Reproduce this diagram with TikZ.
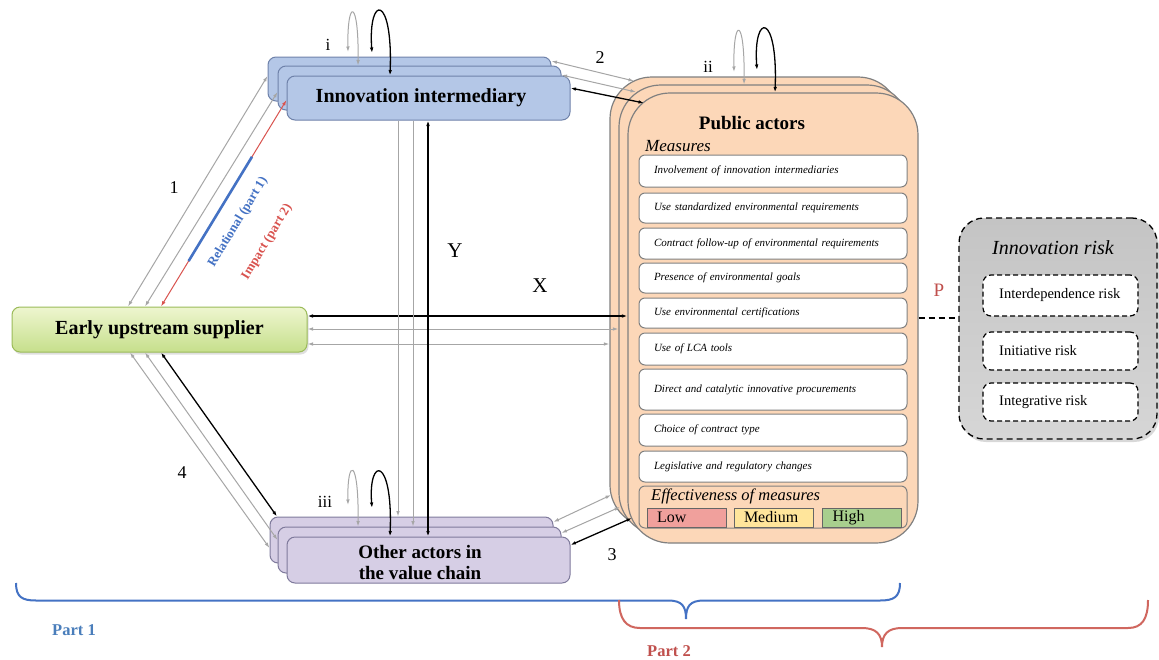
\documentclass[tikz,border=0pt]{standalone}
\usepackage{fontspec}
\setmainfont{Liberation Serif}
\usetikzlibrary{arrows.meta,calc,shadows}

\definecolor{innfill}{HTML}{B4C7E7}
\definecolor{innedge}{HTML}{6F82AA}
\definecolor{othfill}{HTML}{D6CEE5}
\definecolor{othedge}{HTML}{7F7A9C}
\definecolor{pubfill}{HTML}{FCD7B8}
\definecolor{pubedge}{HTML}{808080}
\definecolor{supedge}{HTML}{9BBB59}
\definecolor{suptop}{HTML}{EEF6CF}
\definecolor{supbot}{HTML}{C6DF8C}
\definecolor{lowfill}{HTML}{F0A09C}
\definecolor{medfill}{HTML}{FFE59B}
\definecolor{highfill}{HTML}{A8CF8E}
\definecolor{linegray}{HTML}{A6A6A6}
\definecolor{relblue}{HTML}{4472C4}
\definecolor{impred}{HTML}{D9534F}
\definecolor{partblue}{HTML}{4A7EBB}
\definecolor{partred}{HTML}{C0504D}
\definecolor{bracered}{HTML}{D0675F}
\definecolor{risktop}{HTML}{C4C4C4}
\definecolor{riskbot}{HTML}{D6D6D6}

\tikzset{
  gl/.style={draw=linegray, line width=1pt},
  bl/.style={draw=black, line width=1.3pt},
  innbox/.style={rectangle, rounded corners=8pt, draw=innedge, fill=innfill,
    line width=1pt, minimum width=283pt, minimum height=44pt, inner sep=0pt},
  othbox/.style={rectangle, rounded corners=8pt, draw=othedge, fill=othfill,
    line width=1pt, minimum width=283pt, minimum height=46pt, inner sep=0pt},
  pubbox/.style={rectangle, rounded corners=42pt, draw=pubedge, fill=pubfill,
    line width=1.2pt, minimum width=290pt, minimum height=450pt, inner sep=0pt},
  supbox/.style={rectangle, rounded corners=8pt, draw=supedge, line width=1pt,
    top color=suptop, bottom color=supbot, minimum width=295pt, minimum height=45pt,
    inner sep=0pt, drop shadow={opacity=0.25, shadow xshift=1.5pt, shadow yshift=-2.5pt},
    font=\fontsize{20}{24}\selectfont\bfseries},
  mbox/.style={rectangle, rounded corners=6pt, draw=pubedge, fill=white, line width=1pt,
    text width=238pt, inner xsep=15pt, inner ysep=0pt, align=left,
    font=\fontsize{11}{13}\selectfont\itshape},
  effbox/.style={rectangle, rounded corners=6pt, draw=pubedge, fill=pubfill, line width=1pt,
    minimum width=268pt, minimum height=42pt, inner sep=0pt},
  lvlbox/.style={rectangle, draw=gray!80!black, line width=0.9pt, minimum height=19pt,
    text width=59pt, inner xsep=10pt, inner ysep=0pt, align=left,
    font=\fontsize{16}{18}\selectfont},
  riskbox/.style={rectangle, rounded corners=25pt, draw=black, dashed,
    dash pattern=on 6pt off 4pt, line width=1.3pt, top color=risktop, bottom color=riskbot,
    minimum width=198pt, minimum height=221pt, inner sep=0pt,
    drop shadow={opacity=0.3, shadow xshift=2pt, shadow yshift=-3pt}},
  rbox/.style={rectangle, rounded corners=8pt, draw=black, fill=white,
    dash pattern=on 5pt off 3pt, line width=1.2pt, minimum width=155pt, inner sep=0pt},
  rtext/.style={anchor=west, inner sep=0pt, font=\fontsize{14.5}{17}\selectfont},
  bigtext/.style={inner sep=0pt, font=\fontsize{20}{24}\selectfont\bfseries},
  numlbl/.style={inner sep=0pt, font=\fontsize{18}{20}\selectfont},
  slant/.style={rotate=58.7, inner sep=0pt, font=\fontsize{13}{15}\selectfont\bfseries},
}

\begin{document}
\begin{tikzpicture}[x=1pt, y=-1pt, >={Latex[length=5.5pt,width=3.6pt]}]
\useasboundingbox (0,0) rectangle (1159,659);
\fill[white] (0,0) rectangle (1159,659);

% ---------- stacked actor boxes ----------
\node[innbox] (innA) at (409.5,79) {};
\node[innbox] (innB) at (419.5,88) {};
\node[innbox] (innC) at (428.5,98) {};
\node[bigtext] (innT) at (421,98) {Innovation intermediary};

\node[othbox] (othA) at (411.5,540) {};
\node[othbox] (othB) at (419.5,550) {};
\node[othbox] (othC) at (428.5,560) {};
\node[bigtext, align=center, font=\fontsize{19}{21}\selectfont\bfseries] (othT) at (420,562.5)
  {Other actors in\\the value chain};

\node[supbox] (sup) at (159.5,329.5) {Early upstream supplier};

% ---------- public actors ----------
\node[pubbox] (pubA) at (755,302) {};
\node[pubbox] (pubB) at (764,310) {};
\node[pubbox] (pubC) at (773,318) {};
\node[inner sep=0pt, font=\fontsize{19}{22}\selectfont\bfseries] (pubT) at (752,123) {Public actors};
\node[anchor=west, inner sep=0pt, font=\fontsize{17}{20}\selectfont\itshape] (meas) at (645,146) {Measures};

\node[mbox, minimum height=32pt] (m1) at (773,171)   {Involvement of innovation intermediaries};
\node[mbox, minimum height=30pt] (m2) at (773,208)   {Use standardized environmental requirements};
\node[mbox, minimum height=31pt] (m3) at (773,243.5) {Contract follow-up of environmental requirements};
\node[mbox, minimum height=30pt] (m4) at (773,278)   {Presence of environmental goals};
\node[mbox, minimum height=30pt] (m5) at (773,313)   {Use environmental certifications};
\node[mbox, minimum height=32pt] (m6) at (773,349)   {Use of LCA tools};
\node[mbox, minimum height=41pt] (m7) at (773,389.5) {Direct and catalytic innovative procurements};
\node[mbox, minimum height=32pt] (m8) at (773,430)   {Choice of contract type};
\node[mbox, minimum height=31pt] (m9) at (773,466.5) {Legislative and regulatory changes};

\node[effbox] (eff) at (773,507) {};
\node[anchor=west, inner sep=0pt, font=\fontsize{16.5}{19}\selectfont\itshape] (effT) at (651,496)
  {Effectiveness of measures};
\node[lvlbox, fill=lowfill]  (low)  at (686.5,517.5) {Low};
\node[lvlbox, fill=medfill]  (med)  at (773.5,517.5) {Medium};
\node[lvlbox, fill=highfill] (high) at (862,517.5)   {High};

% ---------- innovation risk ----------
\node[riskbox] (risk) at (1058,328.5) {};
\node[inner sep=0pt, font=\fontsize{20}{23}\selectfont\itshape] (riskT) at (1053,248) {Innovation risk};
\node[rbox, minimum height=41pt] (r1) at (1060.5,295.5) {};
\node[rbox, minimum height=38pt] (r2) at (1060.5,351) {};
\node[rbox, minimum height=38pt] (r3) at (1060.5,402) {};
\node[rtext] (r1T) at (999,295.5) {Interdependence risk};
\node[rtext] (r2T) at (999,351) {Initiative risk};
\node[rtext] (r3T) at (999,402) {Integrative risk};

\draw[black, line width=1.2pt, dash pattern=on 6pt off 4pt] (pubC.east |- 0,318) -- (risk.west |- 0,318);
\node[numlbl, text=partred, font=\fontsize{19}{21}\selectfont] (pP) at (939,290) {P};

% ---------- supplier <-> innovation intermediary ----------
\draw[gl,<->] (128,0 |- sup.north) -- (innA.west |- 0,76);
\draw[gl,<->] (145,0 |- sup.north) -- (innB.west |- 0,92);
\draw[draw=impred, line width=1pt, <->] (161,0 |- sup.north) coordinate (rA) -- (innC.west |- 0,100) coordinate (rB);
\draw[relblue, line width=2.6pt] ($(rA)!0.22!(rB)$) -- ($(rA)!0.725!(rB)$);
\node[slant, text=relblue] (relT) at (238,222) {Relational (part 1)};
\node[slant, text=impred] (impT) at (267,242) {Impact (part 2)};
\node[numlbl] (n1) at (174,188) {1};

% ---------- supplier <-> other actors ----------
\draw[gl,<->] (130,0 |- sup.south) -- (othA.west |- 0,548);
\draw[gl,<->] (145,0 |- sup.south) -- (othB.west |- 0,540);
\draw[bl,<->] (161,0 |- sup.south) -- (277,0 |- othA.north);
\node[numlbl] (n4) at (182,473) {4};

% ---------- supplier <-> public actors ----------
\draw[bl,<->] (sup.east |- 0,316) -- (pubC.west |- 0,316);
\draw[gl,<->] (sup.east |- 0,329) -- (pubB.west |- 0,329);
\draw[gl,<->] (sup.east |- 0,344) -- (pubA.west |- 0,344);
\node[numlbl, font=\fontsize{21}{23}\selectfont] (nX) at (540,286) {X};

% ---------- innovation intermediary <-> other actors ----------
\draw[gl,->] (398,0 |- innC.south) -- (398,0 |- othA.north);
\draw[gl,->] (413,0 |- innC.south) -- (413,0 |- othB.north);
\draw[bl,<->] (428,0 |- innC.south) -- (428,0 |- othC.north);
\node[numlbl, font=\fontsize{21}{23}\selectfont] (nY) at (455,251) {Y};

% ---------- innovation intermediary <-> public actors ----------
\draw[gl,<->] (innA.east |- 0,61) -- (634,81);
\draw[gl,<->] (innB.east |- 0,75) -- (636,92);
\draw[bl,<->] (innC.east |- 0,88) -- (644,103);
\node[numlbl] (n2) at (600,58) {2};

% ---------- other actors <-> public actors ----------
\draw[gl,<->] (othA.east |- 0,522) -- (611,495);
\draw[gl,<->] (othB.east |- 0,533) -- (620,507);
\draw[bl,<->] (othC.east |- 0,545) -- (632,518);
\node[numlbl] (n3) at (612,555) {3};

% ---------- self loops ----------
\coordinate (iGl) at (348,52);
\coordinate (iBl) at (372,53);
\draw[gl,<->] (iGl) .. controls (347,-2) and (359,-2) .. (358,0 |- innB.north);
\draw[bl,<->] (iBl) .. controls (368,-6) and (393,-6) .. (390,0 |- innC.north);
\node[numlbl, font=\fontsize{17}{19}\selectfont] (li) at (328,45) {i};

\coordinate (pGl) at (734,72);
\coordinate (pBl) at (757,70);
\draw[gl,<->] (pGl) .. controls (733,16) and (745,16) .. (744,0 |- pubB.north);
\draw[bl,<->] (pBl) .. controls (753,12) and (778,12) .. (775,0 |- pubC.north);
\node[numlbl, font=\fontsize{17}{19}\selectfont] (lii) at (708,67) {ii};

\coordinate (oGl) at (348,505);
\coordinate (oBl) at (372,508);
\draw[gl,<->] (oGl) .. controls (347,457) and (359,457) .. (358,0 |- othB.north);
\draw[bl,<->] (oBl) .. controls (368,456) and (393,456) .. (390,0 |- othC.north);
\node[numlbl, font=\fontsize{17}{19}\selectfont] (liii) at (325,502) {iii};

% ---------- part braces ----------
\draw[relblue, line width=2pt]
  (16,583) .. controls (16,597) and (22,600.5) .. (36,600.5) -- (668,600.5)
  .. controls (682,600.5) and (686,606) .. (686,619)
  .. controls (686,606) and (690,600.5) .. (704,600.5) -- (880,600.5)
  .. controls (894,600.5) and (900,597) .. (900,583);
\draw[bracered, line width=2pt]
  (619,600) .. controls (619,619) and (626,628) .. (640,628) -- (862,628)
  .. controls (876,628) and (882,634) .. (882,647)
  .. controls (882,634) and (888,628) .. (902,628) -- (1128,628)
  .. controls (1142,628) and (1148,619) .. (1148,600);
\node[inner sep=0pt, text=partblue, font=\fontsize{16.5}{19}\selectfont\bfseries] (p1) at (74,630) {Part 1};
\node[inner sep=0pt, text=partred, font=\fontsize{16.5}{19}\selectfont\bfseries] (p2) at (669,651) {Part 2};
\end{tikzpicture}
\end{document}
